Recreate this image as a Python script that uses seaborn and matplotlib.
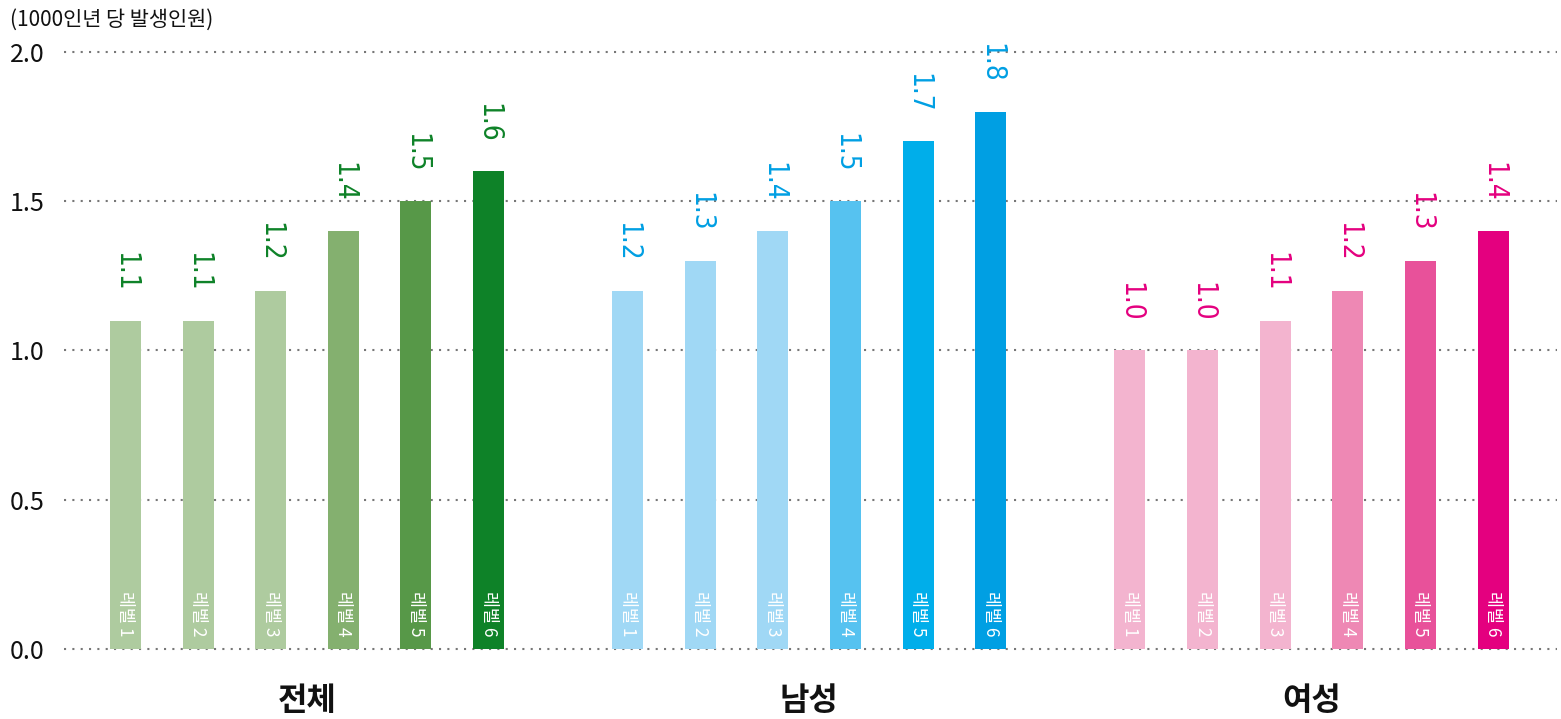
import matplotlib
matplotlib.use("Agg")
import matplotlib.pyplot as plt
import seaborn as sns
import pandas as pd

groups = ["전체", "남성", "여성"]
levels = ["레벨 1", "레벨 2", "레벨 3", "레벨 4", "레벨 5", "레벨 6"]
total_vals = [1.1, 1.1, 1.2, 1.4, 1.5, 1.6]
male_vals = [1.2, 1.3, 1.4, 1.5, 1.7, 1.8]
female_vals = [1.0, 1.0, 1.1, 1.2, 1.3, 1.4]
yticks = [0.0, 0.5, 1.0, 1.5, 2.0]
unit_label = "(1000인년 당 발생인원)"

green = ["#AECB9F", "#AECB9F", "#AECB9F", "#84B06F", "#579848", "#0E8228"]
blue = ["#A0D8F5", "#A0D8F5", "#A0D8F5", "#56C2F0", "#00AEEA", "#009FE3"]
pink = ["#F3B4CF", "#F3B4CF", "#F3B4CF", "#EE88B4", "#E8519A", "#E4007F"]
palettes = [green, blue, pink]
label_colors = ["#0E8228", "#009FE3", "#E4007F"]

sns.set_theme(style="white")
FONT = ["Noto Sans CJK KR", "DejaVu Sans"]
NUMFONT = ["DejaVu Sans"]
plt.rcParams["font.family"] = FONT

rows = []
for g, vals in zip(groups, [total_vals, male_vals, female_vals]):
    for lv, v in zip(levels, vals):
        rows.append({"group": g, "level": lv, "value": v})
df = pd.DataFrame(rows)

fig = plt.figure(figsize=(15.61, 7.19), dpi=100)
ax = fig.add_axes([64 / 1561, 70 / 719, (1557 - 64) / 1561, (649 - 37) / 719])

sns.barplot(data=df, x="group", y="value", hue="level", order=groups,
            hue_order=levels, width=0.8674, gap=0.573, legend=False,
            errorbar=None, ax=ax, zorder=3, saturation=1)

all_vals = [total_vals, male_vals, female_vals]
for li, cont in enumerate(ax.containers):
    for gi, bar in enumerate(cont):
        bar.set_facecolor(palettes[gi][li])
        bar.set_edgecolor("none")
        x = bar.get_x() + bar.get_width() / 2
        h = bar.get_height()
        ax.annotate(f"{all_vals[gi][li]:.1f}", (x, h), xytext=(0, 21),
                    textcoords="offset points", rotation=270, ha="center",
                    va="bottom", fontsize=20, color=label_colors[gi],
                    family=NUMFONT, stretch="condensed", fontweight="light")
        ax.annotate(levels[li], (x, 0), xytext=(0, 9),
                    textcoords="offset points", rotation=270, ha="center",
                    va="bottom", fontsize=12.5, color="white", family=FONT)

ax.set_ylim(0, 2.05)
ax.set_xlim(-0.4838, 2.4888)
ax.set_yticks(yticks)
ax.set_yticklabels([f"{t:.1f}" for t in yticks], fontsize=18, color="#111111")
for t in yticks:
    ax.axhline(t, color="#777777", lw=1.5, ls=(0, (1, 3)), zorder=1, clip_on=False)
ax.set_xticks(range(len(groups)))
ax.set_xticklabels(groups, fontsize=23, fontweight="bold", family=FONT, color="#111111")
ax.tick_params(axis="x", length=0, pad=26)
ax.tick_params(axis="y", length=0, pad=14)
ax.set_xlabel("")
ax.set_ylabel("")
for s in ax.spines.values():
    s.set_visible(False)

fig.text(10 / 1561, 1 - 20 / 719, unit_label, fontsize=15, va="center", ha="left",
         family=FONT, color="#111111")

fig.savefig("out.png", dpi=100)
